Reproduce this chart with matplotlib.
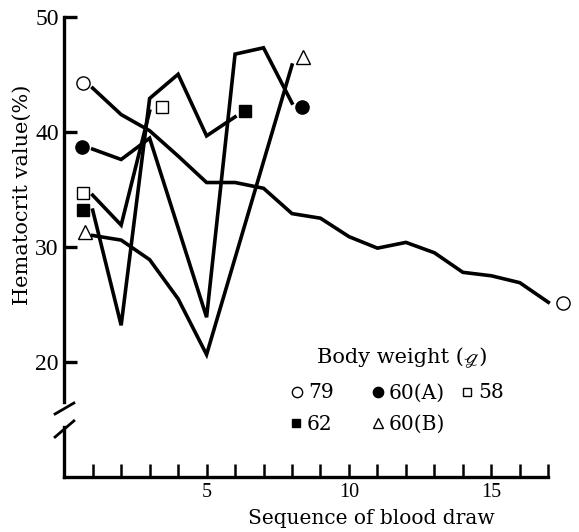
import matplotlib
matplotlib.use("Agg")
import matplotlib.pyplot as plt

# ---------------- data ----------------
x_79 = list(range(1, 18))
y_79 = [43.8, 41.5, 40.1, 37.9, 35.6, 35.6, 35.1, 32.9, 32.5, 30.9, 29.9, 30.4, 29.5, 27.8, 27.5, 26.9, 25.2]

x_60A = [1, 2, 3, 5, 6, 7, 8]
y_60A = [38.5, 37.6, 39.45, 23.9, 46.75, 47.3, 42.5]

x_58 = [1, 2, 3]
y_58 = [34.5, 31.9, 41.8]

x_62 = [1, 2, 3, 4, 5, 6]
y_62 = [33.2, 23.2, 42.9, 45.0, 39.65, 41.3]

x_60B = [1, 2, 3, 4, 5, 8]
y_60B = [31.0, 30.6, 28.9, 25.5, 20.66, 45.8]

# symbol labels placed beside line start / end (data coordinates)
start_x = [0.65, 0.64, 0.65, 0.65, 0.73]
start_y = [44.2, 38.7, 34.7, 33.25, 31.3]
end_x = [17.5, 8.34, 3.42, 6.35, 8.4]
end_y = [25.1, 42.2, 42.2, 41.8, 46.5]

series_names = ["79", "60(A)", "58", "62", "60(B)"]
legend_title = "Body weight (ℊ)"
x_tick_values = list(range(1, 18))
x_tick_labeled = [5, 10, 15]
y_tick_values = [20, 30, 40, 50]
x_label = "Sequence of blood draw"
y_label = "Hematocrit value(%)"

# ---------------- styles ----------------
serif = ["Liberation Serif", "STIXGeneral", "DejaVu Serif", "DejaVu Sans"]
wide_serif = ["DejaVu Serif", "STIXGeneral", "DejaVu Sans"]
plt.rcParams["font.family"] = serif

marker_style = {
    "79": dict(marker="o", mfc="white", mec="black"),
    "60(A)": dict(marker="o", mfc="black", mec="black"),
    "58": dict(marker="s", mfc="white", mec="black"),
    "62": dict(marker="s", mfc="black", mec="black"),
    "60(B)": dict(marker="^", mfc="white", mec="black"),
}
marker_size = {"79": 9.5, "60(A)": 9.5, "58": 8.0, "62": 8.0, "60(B)": 10}

fig = plt.figure(figsize=(5.79, 5.32), dpi=100)
ax = fig.add_axes([64.2 / 579, 54.7 / 532, 484.1 / 579, 460.6 / 532])

xs = [x_79, x_60A, x_58, x_62, x_60B]
ys = [y_79, y_60A, y_58, y_62, y_60B]
for xv, yv in zip(xs, ys):
    ax.plot(xv, yv, color="black", lw=2.6, solid_joinstyle="miter", clip_on=False)

for i, name in enumerate(series_names):
    st = marker_style[name]
    ax.plot([start_x[i]], [start_y[i]], ls="none", ms=marker_size[name], mew=1.0,
            clip_on=False, **st)
    ax.plot([end_x[i]], [end_y[i]], ls="none", ms=marker_size[name], mew=1.0,
            clip_on=False, **st)

ax.set_xlim(0, 17)
ax.set_ylim(10, 50)

for s in ["top", "right"]:
    ax.spines[s].set_visible(False)
ax.spines["bottom"].set_linewidth(2.4)
ax.spines["left"].set_linewidth(2.4)
ax.spines["left"].set_bounds(16.5, 50)
ax.spines["bottom"].set_capstyle("projecting")

# lower piece of the broken y axis and break marks
ax.plot([0, 0], [10, 14.4], color="black", lw=2.4, clip_on=False, solid_capstyle="projecting")
ax.plot([-0.32, 0.34], [15.5, 16.45], color="black", lw=2.0, clip_on=False)
ax.plot([-0.32, 0.34], [13.5, 14.9], color="black", lw=2.0, clip_on=False)

ax.set_xticks(x_tick_values)
ax.set_xticklabels([str(v) if v in x_tick_labeled else "" for v in x_tick_values])
ax.set_yticks(y_tick_values)
ax.set_yticklabels([str(v) for v in y_tick_values])
ax.tick_params(axis="x", direction="in", length=9.5, width=1.8, pad=4, labelsize=14.5)
ax.tick_params(axis="y", direction="in", length=9, width=2.4, pad=4, labelsize=17)

fig.text(22 / 579, 1 - 195 / 532, y_label, rotation=90, ha="center", va="center",
         fontsize=15, family=["DejaVu Serif"])
fig.text(371 / 579, 1 - 518 / 532, x_label, ha="center", va="center",
         fontsize=14.5, family=["DejaVu Serif"])

# ---------------- legend (hand placed, figure pixel coordinates) ----------------
lg = fig.add_axes([0, 0, 1, 1], facecolor="none")
lg.set_xlim(0, 579)
lg.set_ylim(532, 0)
lg.axis("off")
lg.text(402, 358, legend_title, ha="center", va="center", fontsize=15, family=wide_serif)
legend_pos = {"79": (297, 392), "60(A)": (378, 392), "58": (467, 392),
              "62": (296, 423), "60(B)": (378, 423)}
for name in series_names:
    px, py = legend_pos[name]
    lg.plot([px], [py], ls="none", ms=marker_size[name] * 0.78, mew=1.0,
            **marker_style[name])
    lg.text(px + 11, py + 1, name, ha="left", va="center", fontsize=14.5, family=wide_serif)

fig.savefig("out.png", dpi=100)
